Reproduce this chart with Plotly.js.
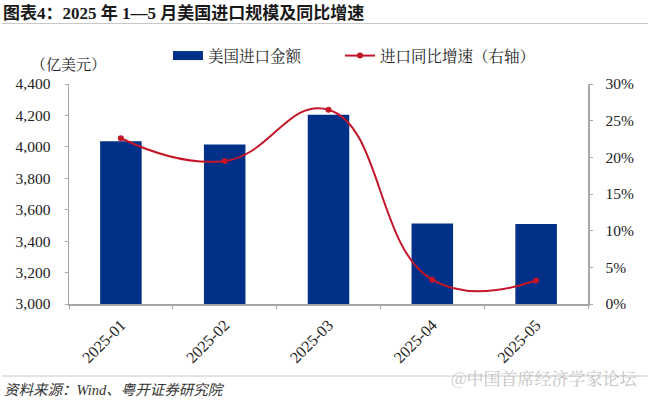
<!DOCTYPE html>
<html><head><meta charset="utf-8">
<script src="https://cdn.plot.ly/plotly-3.0.1.min.js"></script>
<style>html,body{margin:0;padding:0;background:#fff}</style>
</head><body><div id="c" style="width:650px;height:401px"></div>
<script>
const categories = ["2025-01","2025-02","2025-03","2025-04","2025-05"];
const importValue = [4035,4015,4205,3513,3509];
const importGrowth = [22.6,19.5,26.5,3.3,3.2];
const leftTicks = [3000,3200,3400,3600,3800,4000,4200,4400];
const leftTickLabels = ["3,000","3,200","3,400","3,600","3,800","4,000","4,200","4,400"];
const rightTicks = [0,5,10,15,20,25,30];
const rightTickLabels = ["0%","5%","10%","15%","20%","25%","30%"];
const serif = '"Liberation Serif","Noto Sans CJK SC",serif';
const cjk = '"Noto Serif CJK SC","Noto Sans CJK SC",serif';
const axisGrey = '#a6a6a6';
const textCol = '#222222';
const W = 519, H = 220, L = 69, B = 304;
const px = v => (v - L) / W, py = v => (B - v) / H;
const legendBase = {orientation:'h',xanchor:'left',y:py(56),yanchor:'middle',bgcolor:'rgba(0,0,0,0)',font:{family:cjk,size:15.5,color:textCol},itemwidth:30};
Plotly.newPlot('c',[
 {type:'bar',name:'美国进口金额',x:categories,y:importValue,width:0.4,marker:{color:'#003087'},yaxis:'y',showlegend:false},
 {type:'scatter',mode:'lines',name:'美国进口金额',x:[null],y:[null],yaxis:'y',legend:'legend',showlegend:true,line:{color:'#003087',width:9}},
 {type:'scatter',mode:'lines+markers',name:'进口同比增速（右轴）',x:categories,y:importGrowth,yaxis:'y2',legend:'legend2',
  line:{color:'#c4162a',width:2,shape:'spline',smoothing:1.3},marker:{color:'#c4162a',size:6}}
],{
 width:650,height:401,paper_bgcolor:'#fff',plot_bgcolor:'#fff',showlegend:true,
 margin:{l:69,r:62,t:84,b:97},
 font:{family:serif,color:textCol,size:15},
 legend:Object.assign({},legendBase,{x:px(168)}),
 legend2:Object.assign({},legendBase,{x:px(340)}),
 xaxis:{type:'category',categoryorder:'array',categoryarray:categories,tickson:'boundaries',ticks:'outside',ticklen:3,tickcolor:axisGrey,linecolor:axisGrey,linewidth:1.5,showline:true,tickangle:-45,showgrid:false,tickfont:{family:serif,size:16,color:textCol},ticklabelstandoff:4},
 yaxis:{range:[3000,4400],tickvals:leftTicks,ticktext:leftTickLabels,ticks:'outside',ticklen:3,tickcolor:axisGrey,linecolor:axisGrey,linewidth:1.5,showline:true,showgrid:false,zeroline:false,tickfont:{family:serif,size:15.5,color:textCol},ticklabelstandoff:11},
 yaxis2:{range:[0,30],overlaying:'y',side:'right',tickvals:rightTicks,ticktext:rightTickLabels,ticks:'outside',ticklen:3,tickcolor:axisGrey,linecolor:axisGrey,linewidth:1.5,showline:true,showgrid:false,zeroline:false,tickfont:{family:serif,size:15.5,color:textCol},ticklabelstandoff:10},
 shapes:[
  {type:'line',xref:'paper',yref:'paper',x0:px(2),x1:px(648),y0:py(23.5),y1:py(23.5),line:{color:'#c8c8c8',width:1}},
  {type:'line',xref:'paper',yref:'paper',x0:px(2),x1:px(648),y0:py(376),y1:py(376),line:{color:'#c8c8c8',width:1}}
 ],
 annotations:[
  {xref:'paper',yref:'paper',x:px(1),y:py(13),xanchor:'left',yanchor:'middle',showarrow:false,text:'<b>图表4：2025 年 1—5 月美国进口规模及同比增速</b>',font:{family:serif,size:17,color:'#1a1a1a'}},
  {xref:'paper',yref:'paper',x:px(68),y:py(63),xanchor:'center',yanchor:'middle',showarrow:false,text:'（亿美元）',font:{family:cjk,size:15,color:textCol}},
  {xref:'paper',yref:'paper',x:px(2),y:py(390),xanchor:'left',yanchor:'middle',showarrow:false,text:'<i>资料来源：Wind、粤开证券研究院</i>',font:{family:serif,size:14.5,color:'#333'}},
  {xref:'paper',yref:'paper',x:px(640),y:py(377),xanchor:'right',yanchor:'middle',showarrow:false,text:'@中国首席经济学家论坛',font:{family:cjk,size:17,color:'#c4c4c4'}}
 ]
},{displayModeBar:false,staticPlot:true});
</script></body></html>
